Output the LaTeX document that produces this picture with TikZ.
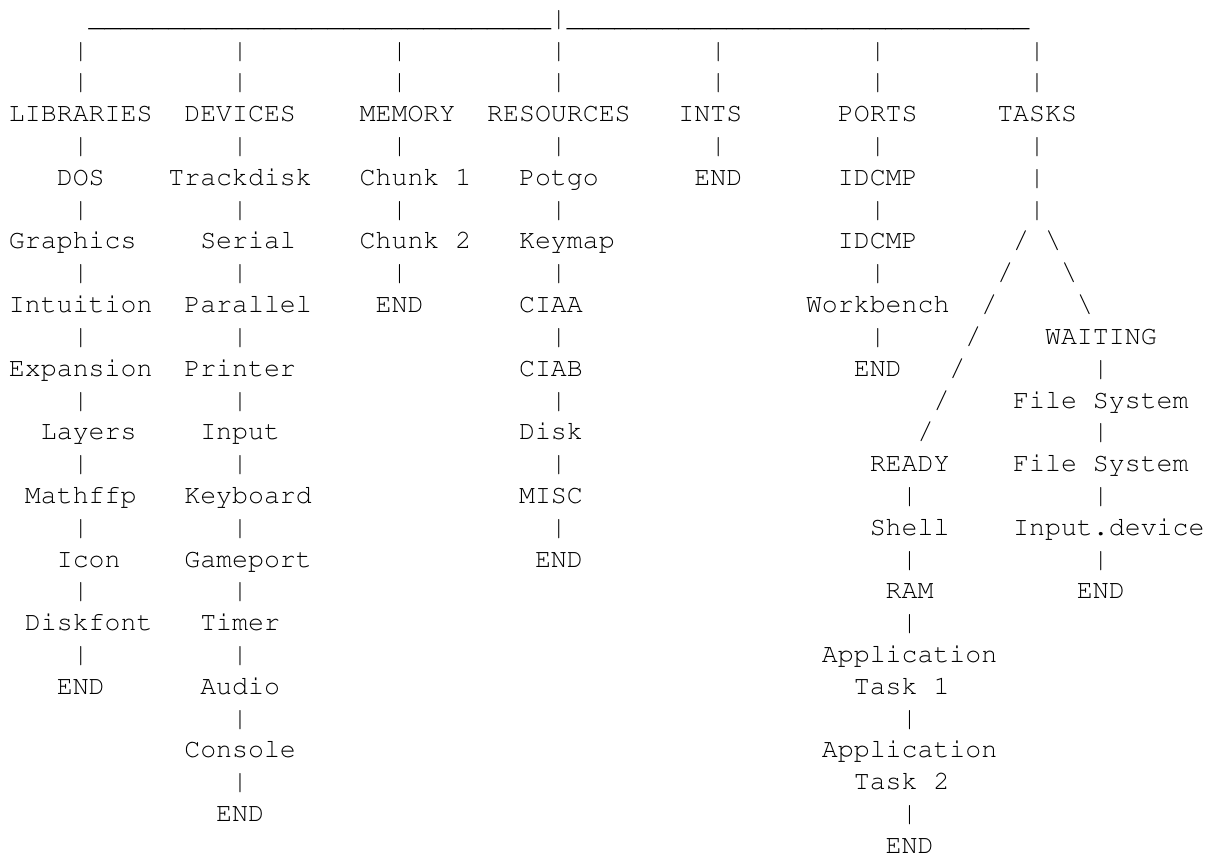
\documentclass[tikz,border=0pt]{standalone}
\usepackage[T1]{fontenc}
\tikzset{
  asc/.style={anchor=base west, inner sep=0pt, outer sep=0pt, text=black,
    font=\fontencoding{T1}\fontfamily{pcr}\fontsize{26.57}{31.81}\selectfont}
}
\newcommand\cx[1]{9+#1*15.94}
\newcommand\ry[1]{26.3+#1*31.81}
\newcommand\tx[4]{\node[asc] (#1) at ({\cx{#2}},{\ry{#3}}) {#4};}
\newcommand\ufive{\textunderscore\textunderscore\textunderscore\textunderscore\textunderscore}
\newcommand\uline{\ufive\ufive\ufive\ufive\ufive\textunderscore\textunderscore\textunderscore\textunderscore}
\begin{document}
\begin{tikzpicture}[x=1pt,y=-1pt]
\useasboundingbox (0,0) rectangle (1208,856);
% top rail
\tx{railL}{5}{0}{\uline}
\tx{root}{34}{0}{\textbar}
\tx{railR}{35}{0}{\uline}
% vertical bars
\foreach \c/\r in {4/1,14/1,24/1,34/1,44/1,54/1,64/1,
                   4/2,14/2,24/2,34/2,44/2,54/2,64/2,
                   4/4,14/4,24/4,34/4,44/4,54/4,64/4,
                   64/5,
                   4/6,14/6,24/6,34/6,54/6,64/6,
                   4/8,14/8,24/8,34/8,54/8,
                   4/10,14/10,34/10,54/10,
                   68/11,
                   4/12,14/12,34/12,
                   68/13,
                   4/14,14/14,34/14,
                   56/15,68/15,
                   4/16,14/16,34/16,
                   56/17,68/17,
                   4/18,14/18,
                   56/19,
                   4/20,14/20,
                   14/22,56/22,
                   14/24,
                   56/25}
  \node[asc] (bar-\c-\r) at ({\cx{\c}},{\ry{\r}}) {\textbar};
% slashes
\foreach \c/\r in {63/7,62/8,61/9,60/10,59/11,58/12,57/13}
  \node[asc] (sl-\c-\r) at ({\cx{\c}},{\ry{\r}}) {/};
\foreach \c/\r in {65/7,66/8,67/9}
  \node[asc] (bs-\c-\r) at ({\cx{\c}},{\ry{\r}}) {\textbackslash};
% headings
\tx{libraries}{0}{3}{LIBRARIES}
\tx{devices}{11}{3}{DEVICES}
\tx{memory}{22}{3}{MEMORY}
\tx{resources}{30}{3}{RESOURCES}
\tx{ints}{42}{3}{INTS}
\tx{ports}{52}{3}{PORTS}
\tx{tasks}{62}{3}{TASKS}
% libraries
\tx{dos}{3}{5}{DOS}
\tx{graphics}{0}{7}{Graphics}
\tx{intuition}{0}{9}{Intuition}
\tx{expansion}{0}{11}{Expansion}
\tx{layers}{2}{13}{Layers}
\tx{mathffp}{1}{15}{Mathffp}
\tx{icon}{3}{17}{Icon}
\tx{diskfont}{1}{19}{Diskfont}
\tx{libend}{3}{21}{END}
% devices
\tx{trackdisk}{10}{5}{Trackdisk}
\tx{serial}{12}{7}{Serial}
\tx{parallel}{11}{9}{Parallel}
\tx{printer}{11}{11}{Printer}
\tx{input}{12}{13}{Input}
\tx{keyboard}{11}{15}{Keyboard}
\tx{gameport}{11}{17}{Gameport}
\tx{timer}{12}{19}{Timer}
\tx{audio}{12}{21}{Audio}
\tx{console}{11}{23}{Console}
\tx{devend}{13}{25}{END}
% memory
\tx{chunka}{22}{5}{Chunk 1}
\tx{chunkb}{22}{7}{Chunk 2}
\tx{memend}{23}{9}{END}
% resources
\tx{potgo}{32}{5}{Potgo}
\tx{keymap}{32}{7}{Keymap}
\tx{ciaa}{32}{9}{CIAA}
\tx{ciab}{32}{11}{CIAB}
\tx{disk}{32}{13}{Disk}
\tx{misc}{32}{15}{MISC}
\tx{resend}{33}{17}{END}
% ints
\tx{intend}{43}{5}{END}
% ports
\tx{idcmpa}{52}{5}{IDCMP}
\tx{idcmpb}{52}{7}{IDCMP}
\tx{workbench}{50}{9}{Workbench}
\tx{portend}{53}{11}{END}
% tasks
\tx{waiting}{65}{10}{WAITING}
\tx{fsa}{63}{12}{File System}
\tx{fsb}{63}{14}{File System}
\tx{inputdev}{63}{16}{Input.device}
\tx{waitend}{67}{18}{END}
\tx{ready}{54}{14}{READY}
\tx{shell}{54}{16}{Shell}
\tx{ram}{55}{18}{RAM}
\tx{appa}{51}{20}{Application}
\tx{taska}{53}{21}{Task 1}
\tx{appb}{51}{23}{Application}
\tx{taskb}{53}{24}{Task 2}
\tx{readyend}{55}{26}{END}
\end{tikzpicture}
\end{document}
